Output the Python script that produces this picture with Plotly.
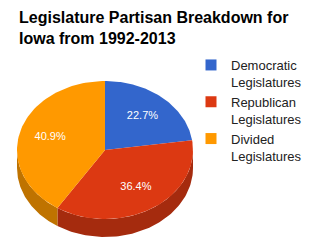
import math
import plotly.graph_objects as go

# ---- data ----
categories = ["Democratic<br>Legislatures", "Republican<br>Legislatures", "Divided<br>Legislatures"]
values = [5, 8, 9]
colors = ["#3366cc", "#dc3912", "#ff9900"]
side_colors = ["#264c99", "#a52b0e", "#bf7300"]
title_text = "Legislature Partisan Breakdown for<br>Iowa from 1992-2013"

# ---- geometry (pixels) ----
W, H = 316, 252
cx, cy, rx, ry, depth = 105, 150, 88, 69, 18
label_k = 0.65

total = sum(values)
fracs = [v / total for v in values]
starts, ends = [], []
acc = 0.0
for f in fracs:
    starts.append(acc * 2 * math.pi)
    acc += f
    ends.append(acc * 2 * math.pi)


def pt(t, dy=0.0):
    return cx + rx * math.sin(t), cy - ry * math.cos(t) + dy


def arc(a, b, dy=0.0, n=80):
    pts = []
    for i in range(n + 1):
        t = a + (b - a) * i / n
        pts.append(pt(t, dy))
    return pts


fig = go.Figure()

# sides (front half only: t in [pi/2, 3pi/2])
for i in range(len(values)):
    a = max(starts[i], math.pi / 2)
    b = min(ends[i], 3 * math.pi / 2)
    if b <= a:
        continue
    top = arc(a, b)
    bot = arc(b, a, depth)
    pts = top + bot
    fig.add_trace(go.Scatter(
        x=[p[0] for p in pts] + [pts[0][0]], y=[p[1] for p in pts] + [pts[0][1]],
        mode="lines", fill="toself", fillcolor=side_colors[i],
        line=dict(width=0, color=side_colors[i]), hoverinfo="skip", showlegend=False))

# top faces
for i in range(len(values)):
    pts = [(cx, cy)] + arc(starts[i], ends[i]) + [(cx, cy)]
    fig.add_trace(go.Scatter(
        x=[p[0] for p in pts], y=[p[1] for p in pts],
        mode="lines", fill="toself", fillcolor=colors[i],
        line=dict(width=0, color=colors[i]), hoverinfo="skip", showlegend=False))

# percentage labels
lx, ly, lt = [], [], []
for i in range(len(values)):
    mid = (starts[i] + ends[i]) / 2
    x = cx + label_k * rx * math.sin(mid)
    y = cy - label_k * ry * math.cos(mid)
    lx.append(x)
    ly.append(y)
    lt.append(f"{fracs[i] * 100:.1f}%")
fig.add_trace(go.Scatter(x=lx, y=ly, text=lt, mode="text",
                         textfont=dict(color="white", size=11, family="Liberation Sans, Arial"),
                         hoverinfo="skip", showlegend=False))

# legend entries
for i in range(len(values)):
    fig.add_trace(go.Scatter(x=[None], y=[None], mode="markers", name=categories[i],
                             marker=dict(symbol="square", size=11, color=colors[i])))

fig.add_annotation(text="<b>" + title_text + "</b>", xref="paper", yref="paper",
                   x=17 / W, y=1 - 7 / H, xanchor="left", yanchor="top", align="left",
                   showarrow=False, font=dict(size=16, color="#000000", family="Liberation Sans, Arial"))

fig.update_layout(
    width=W, height=H, autosize=False,
    margin=dict(l=0, r=0, t=0, b=0),
    paper_bgcolor="white", plot_bgcolor="white",
    xaxis=dict(range=[0, W], visible=False, fixedrange=True),
    yaxis=dict(range=[H, 0], visible=False, fixedrange=True),
    legend=dict(x=191 / W, y=1 - 50 / H, xanchor="left", yanchor="top",
                font=dict(size=13, color="#222222", family="Liberation Sans, Arial"),
                valign="top", tracegroupgap=0, bgcolor="rgba(0,0,0,0)"),
)

fig.write_html("out.html")
